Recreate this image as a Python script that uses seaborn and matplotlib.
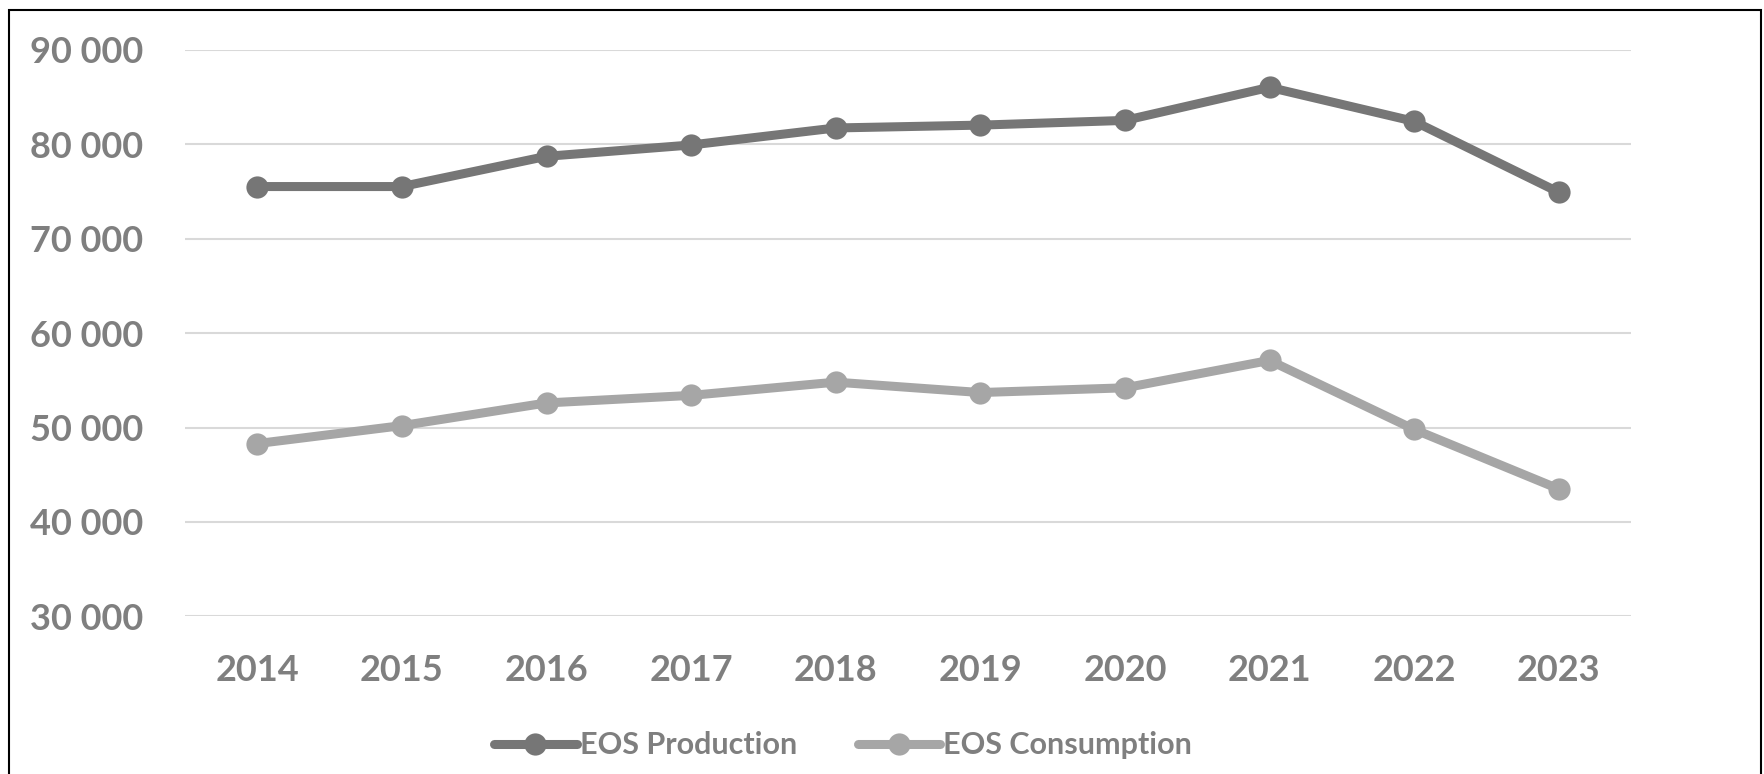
import matplotlib
matplotlib.use("Agg")
import matplotlib.pyplot as plt
import matplotlib.patches as patches
import seaborn as sns
import pandas as pd

years = ['2014', '2015', '2016', '2017', '2018', '2019', '2020', '2021', '2022', '2023']
production = [75500, 75500, 78700, 79900, 81700, 82000, 82500, 86000, 82400, 74900]
consumption = [48300, 50200, 52600, 53400, 54800, 53700, 54200, 57100, 49800, 43500]
series_names = ['EOS Production', 'EOS Consumption']
y_ticks = [30000, 40000, 50000, 60000, 70000, 80000, 90000]

df = pd.DataFrame({
    'year': years * 2,
    'value': production + consumption,
    'series': [series_names[0]] * len(years) + [series_names[1]] * len(years),
})

sns.set_theme(style='white')
plt.rcParams['font.family'] = ['Lato', 'DejaVu Sans']
text_col = '#7f7f7f'

fig = plt.figure(figsize=(17.64, 7.74), dpi=100)
ax = fig.add_axes([0.1049, 0.2035, 0.8197, 0.7325])

palette = {series_names[0]: '#767676', series_names[1]: '#a6a6a6'}
sns.lineplot(data=df, x='year', y='value', hue='series', palette=palette,
             marker='o', markersize=16, markeredgewidth=0, linewidth=6.5,
             sort=False, ax=ax, clip_on=False)

ax.set_xlim(-0.5, len(years) - 0.5)
ax.set_ylim(30000, 90000)
ax.set_yticks(y_ticks)
ax.set_yticklabels([f'{v:,}'.replace(',', ' ') for v in y_ticks])
ax.set_xlabel('')
ax.set_ylabel('')
ax.grid(axis='y', color='#d9d9d9', linewidth=1.5)
ax.set_axisbelow(True)
for s in ax.spines.values():
    s.set_visible(False)
ax.tick_params(axis='both', length=0, labelcolor=text_col, labelsize=26)
ax.tick_params(axis='y', pad=30)
ax.tick_params(axis='x', pad=27)
for lab in ax.get_xticklabels() + ax.get_yticklabels():
    lab.set_fontweight('bold')

handles, labels = ax.get_legend_handles_labels()
ax.get_legend().remove()
leg = fig.legend(handles, labels, loc='center', bbox_to_anchor=(0.478, 0.037),
                 ncol=2, frameon=False, handlelength=2.7, columnspacing=2.0,
                 handletextpad=0.1, prop={'size': 22, 'weight': 'bold'})
for t in leg.get_texts():
    t.set_color(text_col)

# outer border like the screenshot
fig.patches.append(patches.Rectangle((9 / 1764, -0.05), 1752 / 1764, 1.05 - 10 / 774,
                                     transform=fig.transFigure, fill=False,
                                     edgecolor='black', linewidth=1.5))

fig.savefig('out.png', dpi=100)
